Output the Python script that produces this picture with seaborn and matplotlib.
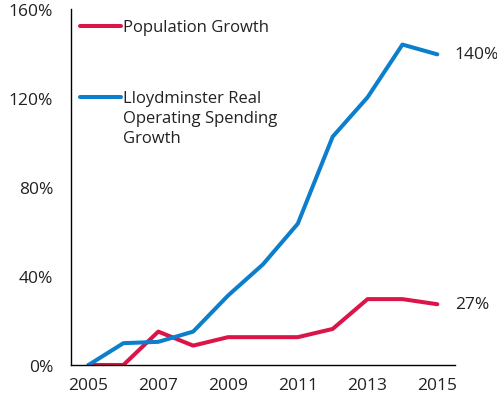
import matplotlib
matplotlib.use("Agg")
import matplotlib.pyplot as plt
import seaborn as sns
import pandas as pd

years = [2005, 2006, 2007, 2008, 2009, 2010, 2011, 2012, 2013, 2014, 2015]
population_growth = [0, 0, 15, 8.7, 12.5, 12.5, 12.5, 16.2, 29.6, 29.6, 27.3]
spending_growth = [0, 9.8, 10.4, 15, 31.2, 45.2, 63.5, 102.6, 120.3, 144, 139.6]
series_names = ["Population Growth", "Lloydminster Real\nOperating Spending\nGrowth"]
y_ticks = [0, 40, 80, 120, 160]
x_ticks = [2005, 2007, 2009, 2011, 2013, 2015]

RED = "#DC1548"
BLUE = "#0B7FCC"

sns.set_theme(style="white")
plt.rcParams["font.family"] = ["Open Sans", "DejaVu Sans"]

df = pd.DataFrame({
    "year": years * 2,
    "value": population_growth + spending_growth,
    "series": [series_names[0]] * len(years) + [series_names[1]] * len(years),
})

fig = plt.figure(figsize=(4.97, 4.02), dpi=100)
ax = fig.add_axes([0.143, 0.0896, 0.772, 0.8856])

sns.lineplot(data=df, x="year", y="value", hue="series",
             palette=[RED, BLUE], linewidth=2.9, legend=False, ax=ax)

ax.set_xlim(2004.5, 2015.5)
ax.set_ylim(0, 160)
ax.set_xticks(x_ticks)
ax.set_yticks(y_ticks)
ax.set_yticklabels([f"{v}%" for v in y_ticks])
ax.tick_params(axis="both", length=0, labelsize=12.5, colors="#222222")
ax.tick_params(axis="y", pad=13)
ax.tick_params(axis="x", pad=9)
ax.set_xlabel("")
ax.set_ylabel("")
for s in ["top", "right"]:
    ax.spines[s].set_visible(False)
for s in ["left", "bottom"]:
    ax.spines[s].set_color("black")
    ax.spines[s].set_linewidth(1.0)

# End-value labels
for vals in (spending_growth, population_growth):
    ax.annotate(f"{round(vals[-1])}%", xy=(years[-1], vals[-1]),
                xytext=(12.5, 0), textcoords="offset points",
                va="center", ha="left", fontsize=12.5, color="#222222",
                annotation_clip=False)

# Manual legend
legend_items = [(RED, series_names[0], 0.952), (BLUE, series_names[1], 0.752)]
for color, label, yy in legend_items:
    ax.plot([0.024, 0.130], [yy, yy], color=color, linewidth=2.9,
            transform=ax.transAxes, clip_on=False, solid_capstyle="round")
    ax.text(0.135, yy + 0.020, label, transform=ax.transAxes, va="top",
            ha="left", fontsize=12, color="#222222", linespacing=1.32)

fig.savefig("out.png", dpi=100)
